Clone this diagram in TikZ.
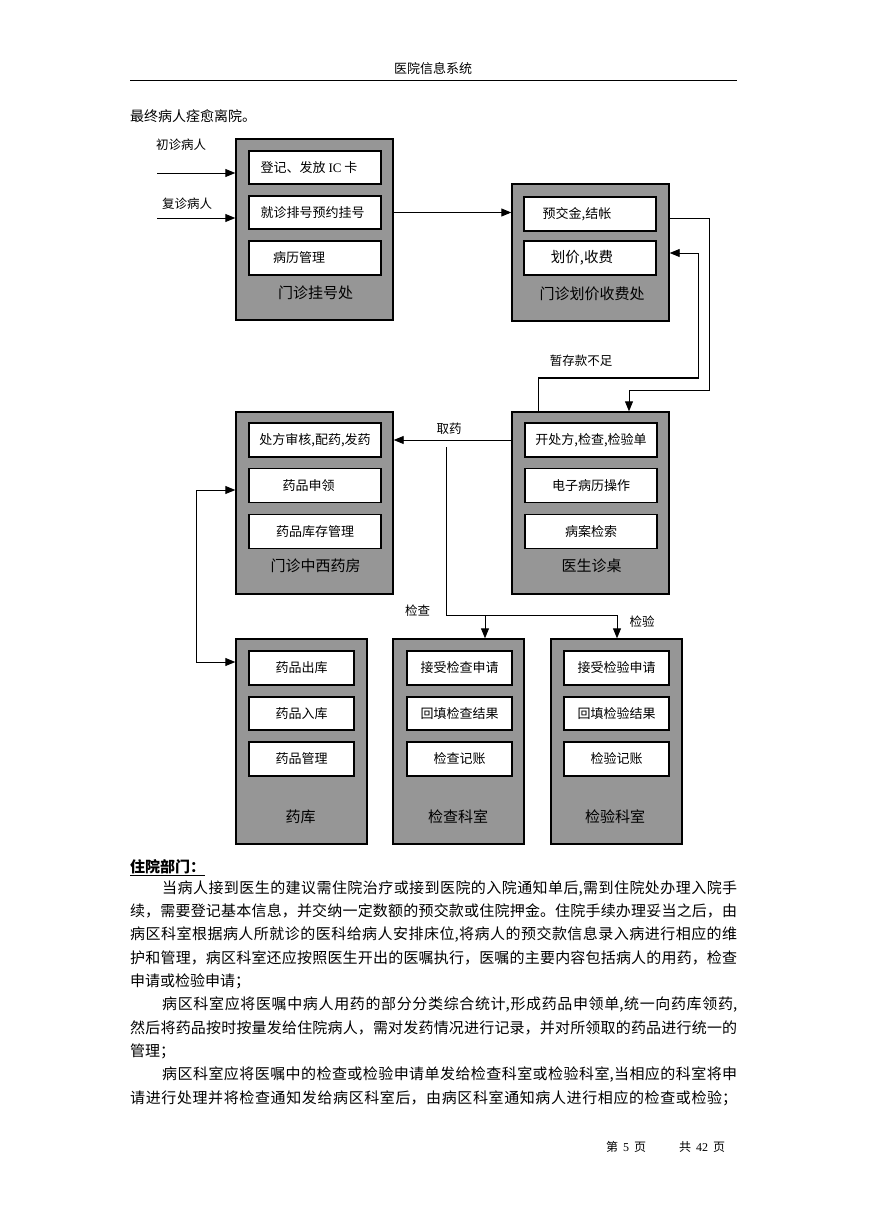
\documentclass[tikz,border=0pt]{standalone}
\usepackage{fontspec}
\setmainfont{Noto Sans CJK SC}
\newfontfamily\lat{Liberation Serif}
\usetikzlibrary{arrows.meta}
\XeTeXlinebreaklocale "zh"
\XeTeXlinebreakskip=0pt plus 3pt minus 0.2pt
\definecolor{boxgray}{RGB}{150,150,150}
\newcommand\fs[1]{\fontsize{#1}{#1}\selectfont}
\newcommand\jl[2]{\parbox{#1pt}{\parfillskip=0pt\relax #2}}
\begin{document}
\begin{tikzpicture}[x=1pt,y=-1pt,
  dept/.style={draw=black, line width=1.4pt, fill=boxgray, inner sep=0pt},
  ibox/.style={draw=black, line width=1.3pt, fill=white, inner sep=0pt, minimum height=34pt, font=\fs{13}},
  dlabel/.style={inner sep=0pt, font=\fs{15}},
  elab/.style={inner sep=0pt, font=\fs{12.5}},
  para/.style={inner sep=0pt, anchor=west, font=\fs{15}},
  conn/.style={draw=black, line width=0.9pt},
  arr/.style={conn, -{Triangle[length=10pt,width=8pt]}},
  arrboth/.style={conn, {Triangle[length=10pt,width=8pt]}-{Triangle[length=10pt,width=8pt]}}
]
\useasboundingbox (0,0) rectangle (869,1228);

% header
\node[inner sep=0pt, font=\fs{13}] (hdr) at (433,69) {医院信息系统};
\draw[line width=1pt] (130,81) -- (737,81);
\node[inner sep=0pt, anchor=west, font=\fs{14}] (intro) at (130,116) {最终病人痊愈离院。};

% 门诊挂号处
\node[dept, minimum width=157pt, minimum height=181pt] (reg) at (314.5,229.5) {};
\node[ibox, minimum width=132pt, minimum height=33pt, label={[font=\fs{13},xshift=-6pt]center:登记、发放 {\lat IC} 卡}] (reg1) at (315,167.5) {};
\node[ibox, minimum width=132pt, minimum height=33pt] (reg2) at (315,212.5) {\hspace*{-5pt}就诊排号预约挂号};
\node[ibox, minimum width=132pt, label={[font=\fs{13},xshift=-16pt]center:病历管理}] (reg3) at (315,258) {};
\node[dlabel] (regL) at (315.5,293) {门诊挂号处};

% 门诊划价收费处
\node[dept, minimum width=157pt, minimum height=137pt] (fee) at (590.5,252.5) {};
\node[ibox, minimum width=132pt, label={[font=\fs{13},xshift=-13pt]center:预交金,结帐}] (fee1) at (590,214) {};
\node[ibox, minimum width=132pt, label={[font=\fs{14.5},xshift=-8pt]center:划价,收费}] (fee2) at (590,258) {};
\node[dlabel] (feeL) at (592,294) {门诊划价收费处};

% 门诊中西药房
\node[dept, minimum width=157pt, minimum height=182pt] (pharm) at (314.5,503) {};
\node[ibox, minimum width=132pt] (ph1) at (315,440) {处方审核,配药,发药};
\node[ibox, minimum width=132pt, label={[font=\fs{13},xshift=-6.5pt]center:药品申领}] (ph2) at (315,485.5) {};
\node[ibox, minimum width=132pt] (ph3) at (315,531.5) {药品库存管理};
\node[dlabel] (phL) at (315.5,566) {门诊中西药房};

% 医生诊桌
\node[dept, minimum width=157pt, minimum height=182pt] (doc) at (590.5,503) {};
\node[ibox, minimum width=132pt] (dc1) at (591,440) {开处方,检查,检验单};
\node[ibox, minimum width=132pt] (dc2) at (591,485.5) {电子病历操作};
\node[ibox, minimum width=132pt] (dc3) at (591,531.5) {病案检索};
\node[dlabel] (dcL) at (591.5,566) {医生诊桌};

% 药库
\node[dept, minimum width=131pt, minimum height=205pt] (store) at (301.5,741.5) {};
\node[ibox, minimum width=105pt] (st1) at (301.5,668) {药品出库};
\node[ibox, minimum width=105pt, minimum height=33pt] (st2) at (301.5,713.5) {药品入库};
\node[ibox, minimum width=105pt] (st3) at (301.5,759) {药品管理};
\node[dlabel] (stL) at (300.5,817) {药库};

% 检查科室
\node[dept, minimum width=131pt, minimum height=205pt] (exam) at (458.5,741.5) {};
\node[ibox, minimum width=105pt] (ex1) at (459.5,668) {接受检查申请};
\node[ibox, minimum width=105pt, minimum height=33pt] (ex2) at (459.5,713.5) {回填检查结果};
\node[ibox, minimum width=105pt] (ex3) at (459.5,759) {检查记账};
\node[dlabel] (exL) at (458,817) {检查科室};

% 检验科室
\node[dept, minimum width=131pt, minimum height=205pt] (lab) at (616.5,741.5) {};
\node[ibox, minimum width=105pt] (lb1) at (616.5,668) {接受检验申请};
\node[ibox, minimum width=105pt, minimum height=33pt] (lb2) at (616.5,713.5) {回填检验结果};
\node[ibox, minimum width=105pt] (lb3) at (616.5,759) {检验记账};
\node[dlabel] (lbL) at (615,817) {检验科室};

% incoming patients
\node[elab] (l1) at (181,145) {初诊病人};
\node[elab] (l2) at (187,204) {复诊病人};
\coordinate (in1) at (157,173);
\coordinate (in2) at (157,218);
\draw[arr] (in1) -- (in1 -| reg.west);
\draw[arr] (in2) -- (in2 -| reg.west);

% reg -> fee
\draw[arr] (reg.east |- reg2) -- (fee.west |- reg2);

% fee -> doc
\coordinate (fa) at (709,218);
\coordinate (fb) at (629,390);
\draw[arr] (fa -| fee.east) -- (fa) |- (fb) -- (fb |- doc.north);

% doc -> fee (暂存款不足)
\coordinate (ra) at (538,378);
\coordinate (rb) at (698,253);
\draw[arr] (ra |- doc.north) -- (ra) -| (rb) -- (rb -| fee.east);
\draw[line width=2pt] (ra) -- (ra -| rb);
\node[elab] (l3) at (581,361) {暂存款不足};

% 取药
\draw[arr] (doc.west |- dc1) -- (pharm.east |- dc1);
\node[elab] (l4) at (449,429) {取药};

% 检查 / 检验
\coordinate (sa) at (446,447);
\coordinate (sb) at (617,615);
\coordinate (ea) at (485,615);
\draw[conn] (sa) |- (sb);
\draw[arr] (ea) -- (ea |- exam.north);
\draw[arr] (sb) -- (sb |- lab.north);
\node[elab] (l5) at (417.5,611) {检查};
\node[elab] (l6) at (642,622) {检验};

% pharmacy <-> store
\coordinate (la) at (196,490);
\coordinate (lb) at (196,662);
\draw[arrboth] (la -| pharm.west) -- (la) -- (lb) -- (lb -| store.west);

% text
\node[inner sep=0pt, anchor=west, font=\fs{15}] (sec) at (130,868) {\underline{\textbf{住院部门：}}};
\node[para] (p1a) at (162,889) {\jl{575}{当病人接到医生的建议需住院治疗或接到医院的入院通知单后,需到住院处办理入院手}};
\node[para] (p1b) at (130,911) {\jl{607}{续，需要登记基本信息，并交纳一定数额的预交款或住院押金。住院手续办理妥当之后，由}};
\node[para] (p1c) at (130,935) {\jl{607}{病区科室根据病人所就诊的医科给病人安排床位,将病人的预交款信息录入病进行相应的维}};
\node[para] (p1d) at (130,958) {\jl{607}{护和管理，病区科室还应按照医生开出的医嘱执行，医嘱的主要内容包括病人的用药，检查}};
\node[para] (p1e) at (130,981) {申请或检验申请；};
\node[para] (p2a) at (162,1005) {\jl{575}{病区科室应将医嘱中病人用药的部分分类综合统计,形成药品申领单,统一向药库领药,}};
\node[para] (p2b) at (130,1028) {\jl{607}{然后将药品按时按量发给住院病人，需对发药情况进行记录，并对所领取的药品进行统一的}};
\node[para] (p2c) at (130,1051) {管理；};
\node[para] (p3a) at (162,1075) {\jl{575}{病区科室应将医嘱中的检查或检验申请单发给检查科室或检验科室,当相应的科室将申}};
\node[para] (p3b) at (130,1098) {\jl{607}{请进行处理并将检查通知发给病区科室后，由病区科室通知病人进行相应的检查或检验；}};

% footer
\node[inner sep=0pt, font=\fs{12}] (f1) at (626,1147) {第\hspace{5pt}{\lat 5}\hspace{5pt}页};
\node[inner sep=0pt, font=\fs{12}] (f2) at (702,1147) {共\hspace{5pt}{\lat 42}\hspace{5pt}页};
\end{tikzpicture}
\end{document}
